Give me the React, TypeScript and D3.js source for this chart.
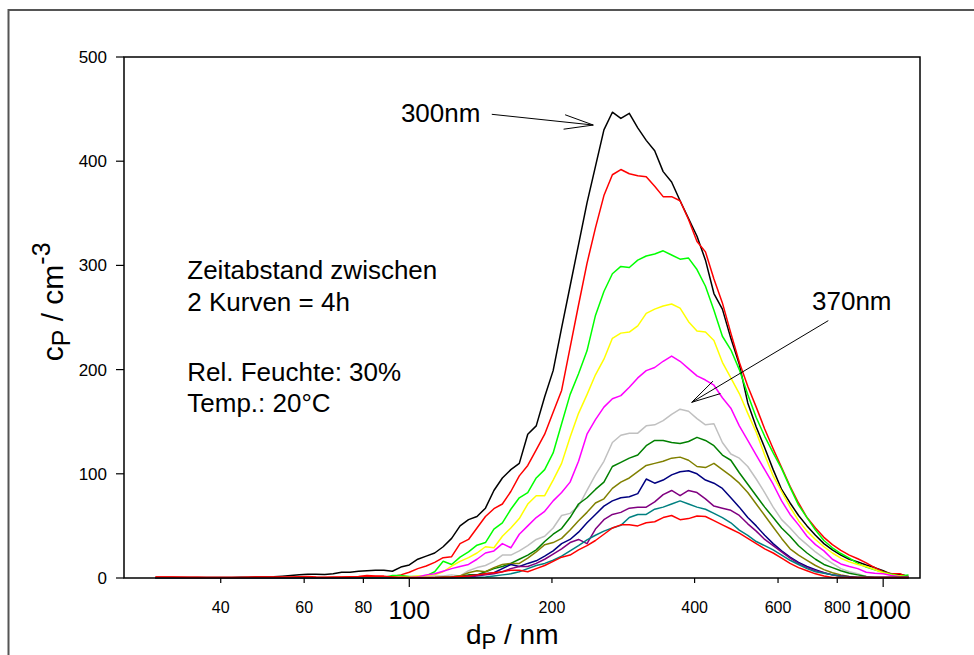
import React from 'react';
import * as d3 from 'd3';

// particle diameter grid (nm)
const diameters = [
  29.13, 30.35, 31.62, 32.95, 34.33, 35.77, 37.28, 38.84, 40.47, 42.17,
  43.94, 45.78, 47.71, 49.71, 51.79, 53.97, 56.23, 58.6, 61.05, 63.62,
  66.29, 69.07, 71.97, 74.99, 78.14, 81.41, 84.83, 88.39, 92.1, 95.97,
  100, 104.2, 108.57, 113.13, 117.88, 122.83, 127.98, 133.35, 138.95, 144.78,
  150.86, 157.19, 163.79, 170.66, 177.83, 185.29, 193.07, 201.17, 209.62, 218.42,
  227.58, 237.14, 247.09, 257.46, 268.27, 279.53, 291.26, 303.48, 316.23, 329.5,
  343.33, 357.74, 372.76, 388.4, 404.7, 421.7, 439.4, 457.84, 477.05, 497.07,
  517.94, 539.67, 562.34, 585.94, 610.53, 636.16, 662.86, 690.68, 719.68, 749.89,
  781.36, 814.16, 848.34, 883.94, 921.04, 959.7, 1000, 1041.98, 1085.7, 1131.3,
];

const lowFlat = [0.3, 0.3, 0.3, 0.3, 0.3, 0.3, 0.3, 0.3, 0.3, 0.3, 0.3, 0.3, 0.3, 0.3, 0.3, 0.3, 0.3, 0.3, 0.3, 0.3, 0.3, 0.3, 0.3, 0.3, 0.3, 0.3, 0.3, 0.3, 0.3, 0.3];

const curve1 = [
  0.5, 0.5, 0.5, 0.5, 0.5, 0.5, 0.5, 0.5, 0.5, 0.6, 0.7, 0.8, 1, 1, 1.2, 1.8, 2.5, 3.2, 3.5, 3.5,
  3.3, 4, 5.5, 5.5, 6.5, 7, 7.5, 7.5, 6.5, 10.5,
  12.5, 18, 21, 24, 30, 38, 50, 56, 59, 67, 84, 96, 104, 110, 138, 146, 174, 199, 240, 280,
  320, 360, 395, 430, 447, 441, 446, 432, 420, 410, 390, 380, 362, 345, 328, 305, 273, 258, 230, 205,
  168, 145, 125, 104, 85, 72, 60, 50, 41, 33, 27, 22, 18, 15.5, 12.5, 10, 7, 3.5, 3.5, 1.5,
];
const curve2 = [
  0.8, 0.8, 0.8, 0.8, 0.8, 0.8, 0.6, 0.6, 0.6, 0.6, 0.6, 0.6, 0.6, 0.6, 0.6, 0.6, 0.6, 0.6, 0.6, 0.6,
  0.6, 0.6, 0.8, 1, 1.2, 1.5, 1.5, 1.2, 1.5, 3,
  5.5, 9, 11.5, 15, 19.5, 20.5, 33, 37, 48, 59, 66.5, 71, 83, 98, 108, 123, 138, 159, 180, 221,
  262, 302, 336, 367, 387, 392, 388, 386, 385, 376, 366, 366, 362, 344, 323, 313, 287, 264, 235, 207,
  184, 164, 143, 124, 106, 88, 72, 58, 48, 39, 32, 26.5, 22, 18.5, 14.5, 10, 6, 4, 4, 1,
];
const curve3 = [
  0.3, 0.3, 0.3, 0.3, 0.3, 0.3, 0.3, 0.3, 0.3, 0.3, 0.3, 0.3, 0.3, 0.3, 0.3, 0.3, 0.3, 0.3, 0.3, 0.3,
  0.3, 0.3, 0.3, 0.3, 0.3, 0.3, 0.3, 0.5, 2.5, 2.5,
  1.5, 1.5, 2, 6, 16, 13, 20, 25, 31.5, 34, 47, 53, 66, 77, 82, 96, 104, 120, 148, 176,
  196, 218, 252, 275, 292, 299, 298, 305, 309, 311, 314, 310, 306, 307, 296, 280, 257, 232, 219, 200,
  176, 154, 136, 120, 105, 87, 70, 58, 46, 36, 29, 23.5, 19, 14, 10.5, 8, 5.5, 3.5, 2, 3,
];
const curve4 = [
  ...lowFlat.slice(0, 28), 0.5, 0.6,
  1, 2, 2, 3, 6, 11.5, 16, 19.5, 24, 30, 29, 40, 48, 57, 71, 79, 79, 94, 110, 135,
  158, 176, 195, 210, 230, 235, 236, 242, 254, 258, 261, 263, 259, 246, 237, 236, 228, 207, 192, 177,
  158, 140, 118, 98, 83, 68, 55, 45, 37, 30, 24, 19, 15.5, 13, 11, 8, 5, 3, 2, 1,
];
const curve5 = [
  ...lowFlat,
  0.5, 1, 3, 4, 6.5, 9, 11, 13, 18, 24, 26, 33, 29, 42, 50, 58, 64, 74, 82, 92,
  112, 138, 152, 164, 172, 175, 183, 192, 199, 202, 208, 213, 208, 201, 194, 190, 185, 173, 163, 146,
  132, 118, 104, 90, 74, 61, 51, 40, 32, 26, 18, 13.5, 11, 9, 5.5, 4.5, 4, 2.5, 1.2, 0.7,
];
const curve6 = [
  ...lowFlat,
  0.3, 0.5, 1, 2, 2, 3, 2, 7, 10, 12, 16, 22, 22, 26, 31, 37, 40, 48, 60, 62,
  69, 84, 99, 112, 130, 137, 139, 139, 146, 147, 151, 157, 162, 160, 153, 147, 148, 130, 119, 115,
  107, 95, 82, 68, 56, 48, 39, 32, 25, 19, 14, 9, 6, 4, 1.5, 0.5, 0.5, 0.5, 0.5, 0.5,
];
const curve7 = [
  ...lowFlat,
  0.3, 0.3, 0.3, 0.5, 1, 1, 2, 3, 3, 6, 9, 11, 14, 18, 22, 27, 35, 42, 47.5, 58,
  71, 77, 85, 92, 107, 111, 115, 118, 127, 132, 132, 130, 129, 131, 135, 132, 127, 118, 113, 101,
  90, 79, 68, 58, 48, 40, 31, 24, 18, 13, 10, 7, 4.5, 3, 1.5, 0.5, 0.5, 0.5, 0.5, 0.5,
];
const curve8 = [
  ...lowFlat,
  0.3, 0.3, 0.3, 0.3, 0.5, 1, 2, 5, 7, 6, 10, 13, 14, 14, 19, 25, 32, 34, 38, 46,
  55, 63, 72, 76, 86, 92, 96, 102, 108, 110, 112, 115, 116, 113, 107, 106, 110, 104, 98, 91,
  82, 71, 60, 49, 38, 28, 22, 17, 12, 8, 5, 3, 1.5, 0.5, 0.5, 0.5, 0.5, 0.5, 0.5, 0.5,
];
const curve9 = [
  ...lowFlat,
  0.3, 0.3, 0.3, 0.3, 0.3, 0.5, 1, 2, 3, 4, 5, 9, 13, 11, 14, 16.5, 21, 26, 33, 37,
  44, 53, 61, 69, 74, 77, 78, 81, 95, 91, 94, 99, 102, 103, 100, 94, 91, 86, 77, 68,
  58, 50, 41, 33, 26, 20, 15, 11, 8, 5, 3, 2, 1.3, 0.5, 0.5, 0.5, 0.5, 0.5, 0.5, 0.5,
];
const curve10 = [
  ...lowFlat,
  0.3, 0.3, 0.3, 0.3, 0.3, 0.3, 0.5, 1, 2, 3, 4, 6, 9, 11, 11, 14, 18, 23, 28, 34,
  37, 33, 47, 56, 61, 63, 67, 68, 68, 73, 80, 84, 79, 84, 82, 76, 69, 67, 65, 60,
  52, 45, 37, 31, 25, 19, 14, 10, 7, 5, 3, 2, 0.5, 0.5, 0.5, 0.5, 0.5, 0.5, 0.5, 0.5,
];
const curve11 = [
  ...lowFlat,
  0.3, 0.3, 0.3, 0.3, 0.3, 0.3, 0.3, 0.3, 0.5, 1, 2, 3, 4, 6, 9, 12, 14, 17, 21, 26,
  31, 36.5, 41, 45, 48, 50.5, 58, 61, 61, 66, 68, 71, 74, 71, 68, 66, 62, 58, 53, 46,
  41, 35, 31, 27, 22, 17, 13, 9, 6, 4.5, 3, 1.5, 0.5, 0.5, 0.5, 0.5, 0.5, 0.5, 0.5, 0.5,
];
const curve12 = [
  1, 1, 1, 0.8, 0.5, 0.5, 0.5, 0.5, 0.5, 0.5, 0.5, 0.8, 1, 1, 1, 1, 1, 1.2, 1.5, 1,
  0.8, 1, 1, 1.2, 1.5, 2.5, 2, 1.8, 1, 0.8,
  0.5, 0.5, 0.5, 0.5, 0.8, 1, 1.5, 2, 3, 4, 5, 6, 7.5, 7.5, 6, 9, 12, 16, 20, 22,
  27, 31, 36, 42, 48, 51, 51, 50, 53, 54, 58, 60, 56, 57, 59.5, 59, 55, 51, 47, 43,
  38, 33, 28, 24, 19, 14, 10, 7, 4, 2, 0.5, 0.5, 0.5, 0.5, 0.5, 0.5, 0.5, 0.5, 0.5, 0.5,
];

const curves = [curve1, curve2, curve3, curve4, curve5, curve6, curve7, curve8, curve9, curve10, curve11, curve12];
const curveColors = ['#000000', '#ff0000', '#00ff00', '#ffff00', '#ff00ff', '#c0c0c0', '#008000', '#808000', '#000080', '#800080', '#008080', '#ff0000'];

const yTicks = [0, 100, 200, 300, 400, 500];
const xSmallTicks = [40, 60, 80, 200, 400, 600, 800];
const xBigTicks = [100, 1000];

const infoLines = ['Zeitabstand zwischen', '2 Kurven = 4h', 'Rel. Feuchte: 30%', 'Temp.: 20°C'];
const infoBaselines = [279, 311, 381, 412];

const FONT = "'Liberation Sans', Arial, Helvetica, sans-serif";

function Arrow({ x1, y1, x2, y2 }: { x1: number; y1: number; x2: number; y2: number }) {
  const ang = Math.atan2(y1 - y2, x1 - x2);
  const len = 30;
  const spread = (14 * Math.PI) / 180;
  const a1x = x2 + len * Math.cos(ang + spread);
  const a1y = y2 + len * Math.sin(ang + spread);
  const a2x = x2 + len * Math.cos(ang - spread);
  const a2y = y2 + len * Math.sin(ang - spread);
  return (
    <g stroke="#000" strokeWidth={1} fill="none">
      <line x1={x1} y1={y1} x2={x2} y2={y2} />
      <line x1={a1x} y1={a1y} x2={x2} y2={y2} />
      <line x1={a2x} y1={a2y} x2={x2} y2={y2} />
    </g>
  );
}

export default function App() {
  const W = 974;
  const H = 655;
  const left = 124, right = 920, top = 57, bottom = 578;
  const x = d3.scaleLog().domain([25, 1196]).range([left, right]);
  const y = d3.scaleLinear().domain([0, 500]).range([bottom, top]);
  const line = d3
    .line<number>()
    .x((_, i) => x(diameters[i]))
    .y((v) => y(v));

  return (
    <svg width={W} height={H} style={{ position: 'absolute', left: 0, top: 0, background: '#fff' }} fontFamily={FONT}>
      <rect x={0} y={0} width={W} height={H} fill="#fff" />
      {/* outer frame */}
      <rect x={8.5} y={10} width={W + 20} height={H + 20} fill="none" stroke="#555" strokeWidth={2} />

      {/* curves */}
      {curves.map((c, i) => (
        <path key={i} d={line(c) || ''} fill="none" stroke={curveColors[i]} strokeWidth={1.5} strokeLinejoin="round" />
      ))}

      {/* plot box */}
      <rect x={left} y={top} width={right - left} height={bottom - top} fill="none" stroke="#000" strokeWidth={1.5} />

      {/* y ticks */}
      {yTicks.map((t) => (
        <g key={t}>
          <line x1={left - 8} x2={left} y1={y(t)} y2={y(t)} stroke="#000" strokeWidth={1.2} />
          <text x={left - 17} y={y(t) + 6} textAnchor="end" fontSize={17}>
            {t}
          </text>
        </g>
      ))}

      {/* x ticks */}
      {xSmallTicks.map((t) => (
        <g key={t}>
          <line x1={x(t)} x2={x(t)} y1={bottom} y2={bottom + 5} stroke="#000" strokeWidth={1.2} />
          <text x={x(t)} y={bottom + 35} textAnchor="middle" fontSize={16}>
            {t}
          </text>
        </g>
      ))}
      {xBigTicks.map((t) => (
        <g key={t}>
          <line x1={x(t)} x2={x(t)} y1={bottom} y2={bottom + 9} stroke="#000" strokeWidth={1.2} />
          <text x={x(t)} y={bottom + 41} textAnchor="middle" fontSize={25}>
            {t}
          </text>
        </g>
      ))}

      {/* x title */}
      <text x={466} y={644} textAnchor="start" fontSize={28}>
        <tspan>d</tspan>
        <tspan fontSize={22} dy={5}>P</tspan>
        <tspan dy={-5}> / nm</tspan>
      </text>

      {/* y title */}
      <text transform={`translate(63, ${y(265)}) rotate(-90)`} textAnchor="middle" fontSize={30}>
        <tspan>c</tspan>
        <tspan fontSize={25} dy={7}>P</tspan>
        <tspan dy={-7}> / cm</tspan>
        <tspan fontSize={25} dy={-13}>-3</tspan>
      </text>

      {/* info text */}
      {infoLines.map((l, i) => (
        <text key={i} x={x(34)} y={infoBaselines[i]} fontSize={26}>
          {l}
        </text>
      ))}

      {/* annotations */}
      <text x={x(96)} y={y(437.6)} fontSize={26}>300nm</text>
      <Arrow x1={x(149.3)} y1={y(445)} x2={x(244.5)} y2={y(434.7)} />
      <text x={x(707.7)} y={y(257.2)} fontSize={26}>370nm</text>
      <Arrow x1={x(766)} y1={y(247)} x2={x(394.4)} y2={y(168.6)} />
    </svg>
  );
}
